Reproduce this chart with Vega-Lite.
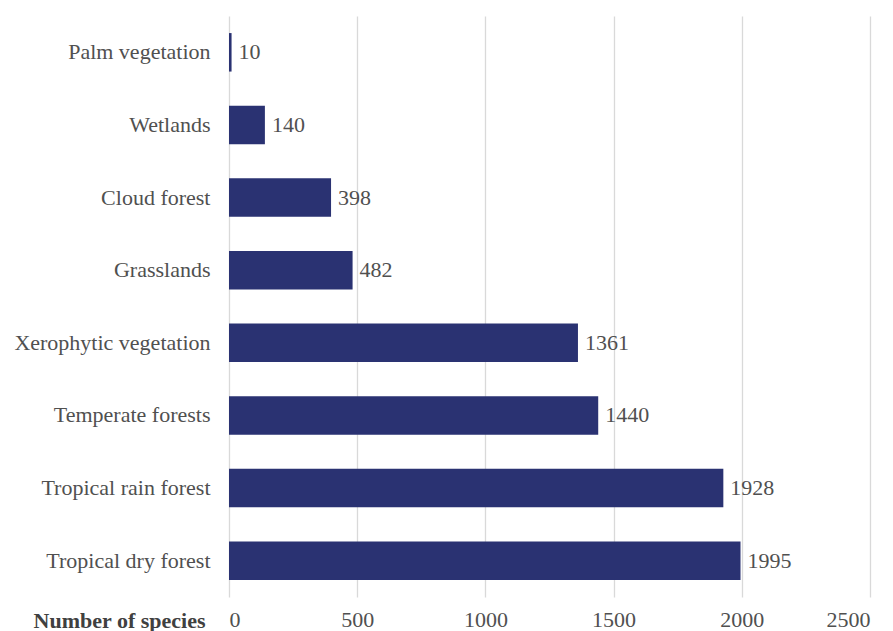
{
  "$schema": "https://vega.github.io/schema/vega-lite/v6.json",
  "autosize": "none",
  "width": 641,
  "height": 581,
  "padding": {"left": 229, "top": 16, "right": 23, "bottom": 34},
  "background": "white",
  "config": {
    "font": "Liberation Serif",
    "view": {"stroke": null}
  },
  "data": {
    "values": [
      {"habitat": "Palm vegetation", "species": 10},
      {"habitat": "Wetlands", "species": 140},
      {"habitat": "Cloud forest", "species": 398},
      {"habitat": "Grasslands", "species": 482},
      {"habitat": "Xerophytic vegetation", "species": 1361},
      {"habitat": "Temperate forests", "species": 1440},
      {"habitat": "Tropical rain forest", "species": 1928},
      {"habitat": "Tropical dry forest", "species": 1995}
    ]
  },
  "encoding": {
    "y": {
      "field": "habitat",
      "type": "nominal",
      "sort": null,
      "scale": {"paddingInner": 0.47, "paddingOuter": 0.235},
      "axis": {
        "title": null,
        "domain": false,
        "ticks": false,
        "labelPadding": 19,
        "labelLimit": 0,
        "labelFontSize": 22,
        "labelColor": "#505050",
        "labelFont": "Liberation Serif"
      }
    },
    "x": {
      "field": "species",
      "type": "quantitative",
      "scale": {"domain": [0, 2500], "nice": false},
      "axis": {
        "values": [0, 500, 1000, 1500, 2000, 2500],
        "format": "d",
        "domain": false,
        "ticks": false,
        "grid": true,
        "gridColor": "#d9d9d9",
        "gridWidth": 1.3,
        "labelPadding": 12,
        "labelFontSize": 22,
        "labelColor": "#505050",
        "labelFont": "Liberation Serif",
        "title": "Number of species",
        "titleFont": "Liberation Serif",
        "titleFontSize": 22,
        "titleFontWeight": "bold",
        "titleColor": "#404040",
        "titleAlign": "right",
        "titleAnchor": "start",
        "titleBaseline": "middle",
        "titleX": -24,
        "titleY": 23
      }
    }
  },
  "layer": [
    {"mark": {"type": "bar", "color": "#2a3272"}},
    {
      "mark": {"type": "text", "align": "left", "baseline": "middle", "dx": 7, "fontSize": 22, "color": "#505050", "font": "Liberation Serif"},
      "encoding": {"text": {"field": "species", "type": "quantitative"}}
    }
  ]
}
